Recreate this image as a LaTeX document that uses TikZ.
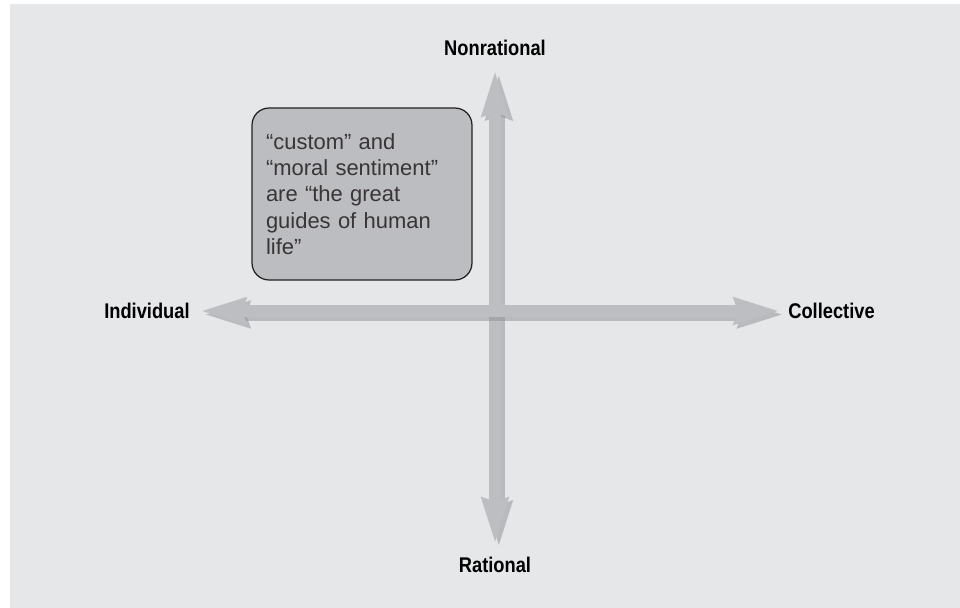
\documentclass[tikz,border=0pt]{standalone}
\usepackage{fontspec}
\setmainfont{Liberation Sans}
\newfontfamily\axisfont[FakeStretch=0.86]{Liberation Sans}
\usepackage{xcolor}
\usepackage{tikz}
\usetikzlibrary{arrows.meta,positioning}
\definecolor{panelgray}{HTML}{E6E7E9}
\definecolor{axisgray}{HTML}{BDBEC1}
\definecolor{shadegray}{HTML}{8E8F92}
\definecolor{notegray}{HTML}{BCBDC0}
\definecolor{inkgray}{HTML}{231F20}

\begin{document}
\begin{tikzpicture}[
  x=0.02cm, y=-0.02cm,
  pole/.style={font=\axisfont\bfseries\fontsize{12.1}{14}\selectfont,
    text=black, inner sep=0pt},
  axis/.style={line width=0.25cm, draw=axisgray,
    {Stealth[length=0.9cm, width=0.5cm, inset=0.06cm]}-{Stealth[length=0.9cm, width=0.5cm, inset=0.06cm]}},
  axisshade/.style={axis, draw=shadegray, opacity=0.5},
  note/.style={draw=inkgray, line width=0.7pt, fill=notegray,
    rounded corners=0.34cm, minimum width=4.4cm, minimum height=3.44cm,
    text width=3.84cm, align=left, inner xsep=0.28cm, text=inkgray!90,
    font=\fontsize{12.5}{14.9}\selectfont},
]

% Panel
\useasboundingbox (0,0) rectangle (960,608);
\fill[white] (0,0) rectangle (960,608);
\fill[panelgray] (10,4) rectangle (960,608);

% Poles
\node[pole] (nonrat) at (495,48) {Nonrational};
\node[pole] (rat) at (495,565) {Rational};
\node[pole, anchor=east] (indiv) at (190,311) {Individual};
\node[pole, anchor=west] (coll) at (788,311) {Collective};

% Axes (shadow first)
\draw[axisshade, transform canvas={xshift=2.2pt, yshift=-2pt},
  shorten <=0.26cm, shorten >=0.28cm] (rat) -- (nonrat);
\draw[axis, shorten <=0.26cm, shorten >=0.28cm] (rat) -- (nonrat);
\draw[axisshade, transform canvas={xshift=2.2pt, yshift=-2pt},
  shorten <=0.2cm, shorten >=0.16cm] (indiv) -- (coll);
\draw[axis, shorten <=0.2cm, shorten >=0.16cm] (indiv) -- (coll);

% Quote box
\node[note] (hume) at (362,194)
  {“custom” and\\ “moral sentiment”\\ are “the great\\ guides of human\\ life”};

\end{tikzpicture}
\end{document}
